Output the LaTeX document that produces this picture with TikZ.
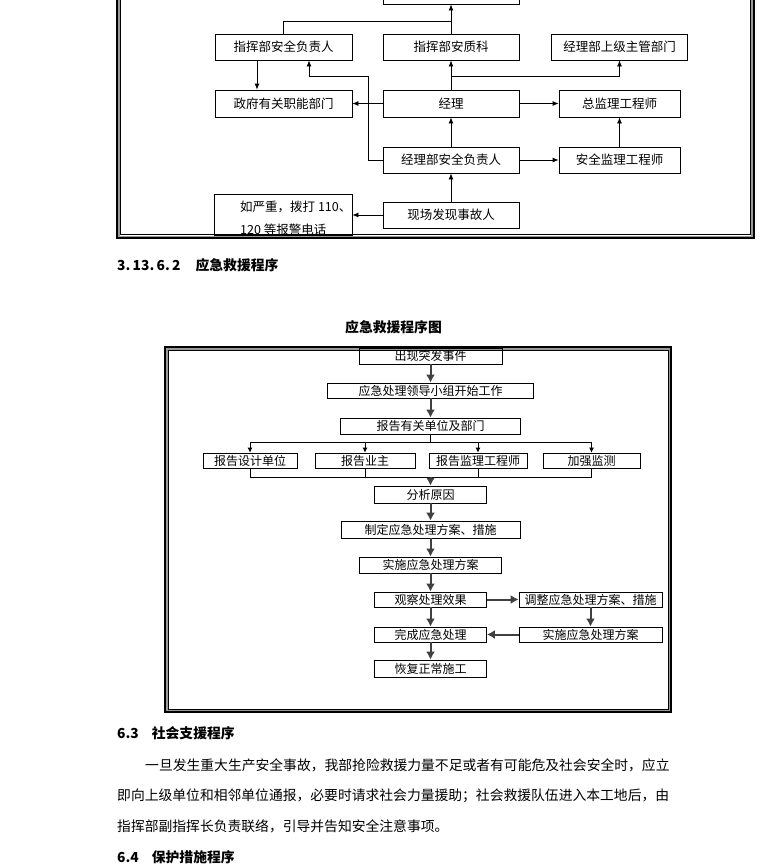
\documentclass[tikz,border=0pt]{standalone}
\usepackage{fontspec}
\setmainfont{Noto Sans CJK SC}
\usetikzlibrary{arrows.meta}

\tikzset{
  sbox/.style={draw, line width=0.8pt, inner sep=0pt, minimum height=26pt, font=\fontsize{12.5}{14}\selectfont},
  sarr/.style={line width=0.8pt, -{Latex[length=6pt,width=5pt]}},
  sline/.style={line width=0.8pt},
  jbox/.style={draw, line width=0.8pt, inner sep=0pt, minimum height=15pt, font=\fontsize{12}{13}\selectfont},
  jarr/.style={line width=2pt, draw=black!75, -{Latex[length=8pt,width=9pt]}},
  jsmall/.style={line width=0.8pt, -{Latex[length=5pt,width=5pt]}},
  jline/.style={line width=0.8pt},
  heading/.style={anchor=west, inner sep=0pt, font=\bfseries\fontsize{13.8}{15}\selectfont},
  bodyline/.style={anchor=west, inner sep=0pt, font=\fontsize{13.8}{15}\selectfont},
  frameout/.style={line width=2pt},
  framegray/.style={draw=black!40, line width=1.5pt},
  framein/.style={line width=0.8pt}
}

\begin{document}
\begin{tikzpicture}[x=1pt, y=-1pt]
\useasboundingbox (0,0) rectangle (780,865);
% frame of the upper chart (cut at the top of the page)
\draw[frameout] (117,-10) -- (117,238) -- (754,238) -- (754,-10);
\draw[framegray] (119,-10) -- (119,236.3) -- (751.8,236.3) -- (751.8,-10);
\draw[framein] (120.4,-10) -- (120.4,234.8) -- (750.4,234.8) -- (750.4,-10);

\node[sbox, minimum width=136pt, minimum height=40pt] (zhb) at (451,-16) {};
\node[sbox, minimum width=137pt] (zhaq) at (283.5,47) {指挥部安全负责人};
\node[sbox, minimum width=136pt] (zhaz) at (451,47) {指挥部安质科};
\node[sbox, minimum width=136pt] (sjzg) at (619.5,47) {经理部上级主管部门};
\node[sbox, minimum width=137pt, minimum height=27pt] (zf) at (283.5,103.5) {政府有关职能部门};
\node[sbox, minimum width=136pt, minimum height=27pt] (jl) at (451,103.5) {经理};
\node[sbox, minimum width=121pt, minimum height=27pt] (zj) at (619.5,103.5) {总监理工程师};
\node[sbox, minimum width=136pt] (jlaq) at (451,160) {经理部安全负责人};
\node[sbox, minimum width=121pt] (aqjl) at (619.5,160) {安全监理工程师};
\node[sbox, minimum width=138pt, minimum height=41pt] (bj) at (283,214.5) {};
\node[anchor=west, align=left, inner sep=0pt, font=\fontsize{12.5}{23}\selectfont] (bjt) at (240,218.5) {如严重，拨打 110、\\120 等报警电话};
\node[sbox, minimum width=136pt] (xc) at (451,215) {现场发现事故人};

\coordinate (j1) at (451,21);
\coordinate (j2) at (451,76);
\coordinate (j3) at (368,76);
\draw[sline] (zhaq.north) |- (j1);
\draw[sarr] (zhaz.north) -- (zhb.south);
\draw[sarr] ([xshift=-26.5pt]zhaq.south) -- ([xshift=-26.5pt]zf.north);
\draw[sarr] (jl) -- (zhaz);
\draw[sarr] (jl) -- (zf);
\draw[sarr] (jl) -- (zj);
\draw[sarr] (j2) -| (sjzg.south);
\draw[sarr] (jlaq.west) -| (j3) -| ([xshift=25.5pt]zhaq.south);
\draw[sarr] (jlaq) -- (jl);
\draw[sarr] (jlaq) -- (aqjl);
\draw[sarr] (aqjl) -- (zj);
\draw[sarr] (xc) -- (jlaq);
\draw[sarr] (xc.west) -- (xc.west -| bj.east);

\node[heading] (h3136) at (117,265) {3.\,13.\,6.\,2\hspace{15pt}应急救援程序};
\node[heading, anchor=center] (tt) at (393.5,327) {应急救援程序图};

% frame of the lower chart
\draw[frameout] (165,347) rectangle (671,712.3);
\draw[framegray] (166.8,348.8) rectangle (669.2,710.6);
\draw[framein] (168,350) rectangle (668,709.3);

\node[jbox, minimum width=143pt, minimum height=16pt] (cx) at (430.5,356) {出现突发事件};
\node[jbox, minimum width=206pt] (ld) at (430.5,390.5) {应急处理领导小组开始工作};
\node[jbox, minimum width=180pt, minimum height=16pt] (bg) at (430.5,426) {报告有关单位及部门};
\node[jbox, minimum width=94pt] (sj) at (250,460.5) {报告设计单位};
\node[jbox, minimum width=100pt] (yz) at (365,460.5) {报告业主};
\node[jbox, minimum width=98pt] (jlgcs) at (478,460.5) {报告监理工程师};
\node[jbox, minimum width=97pt] (jc) at (591.5,460.5) {加强监测};
\node[jbox, minimum width=112pt, minimum height=17pt] (fx) at (430.5,494.5) {分析原因};
\node[jbox, minimum width=179pt, minimum height=17pt] (zd) at (430.5,529.5) {制定应急处理方案、措施};
\node[jbox, minimum width=142pt, minimum height=16pt] (ss) at (430.5,565) {实施应急处理方案};
\node[jbox, minimum width=112pt] (gc) at (430.5,599.5) {观察处理效果};
\node[jbox, minimum width=143pt] (tz) at (590.5,599.5) {调整应急处理方案、措施};
\node[jbox, minimum width=112pt] (wc) at (430.5,634.5) {完成应急处理};
\node[jbox, minimum width=143pt] (ssb) at (590.5,634.5) {实施应急处理方案};
\node[jbox, minimum width=112pt, minimum height=17pt] (hf) at (430.5,668.5) {恢复正常施工};

\coordinate (t1) at (430.5,442);
\coordinate (t2) at (430.5,477);
\draw[jarr] (cx) -- (ld);
\draw[jarr] (ld) -- (bg);
\draw[jline] (bg) -- (t1);
\foreach \n in {sj,yz,jlgcs,jc}
  \draw[jsmall] (t1) -| (\n.north);
\foreach \n in {sj,yz,jlgcs,jc}
  \draw[jline] (\n.south) |- (t2);
\draw[jarr] (t2) -- (fx);
\draw[jarr] (fx) -- (zd);
\draw[jarr] (zd) -- (ss);
\draw[jarr] (ss) -- (gc);
\draw[jarr] (gc) -- (tz);
\draw[jarr] (tz) -- (ssb);
\draw[jarr] (ssb) -- (wc);
\draw[jarr] (gc) -- (wc);
\draw[jarr] (wc) -- (hf);

\node[heading] (h63) at (117,733) {6.3\hspace{13pt}社会支援程序};
\node[bodyline] (p1) at (145,765) {一旦发生重大生产安全事故，我部抢险救援力量不足或者有可能危及社会安全时，应立};
\node[bodyline] (p2) at (117,796) {即向上级单位和相邻单位通报，必要时请求社会力量援助；社会救援队伍进入本工地后，由};
\node[bodyline] (p3) at (117,826) {指挥部副指挥长负责联络，引导并告知安全注意事项。};
\node[heading] (h64) at (117,857) {6.4\hspace{13pt}保护措施程序};
\end{tikzpicture}
\end{document}
